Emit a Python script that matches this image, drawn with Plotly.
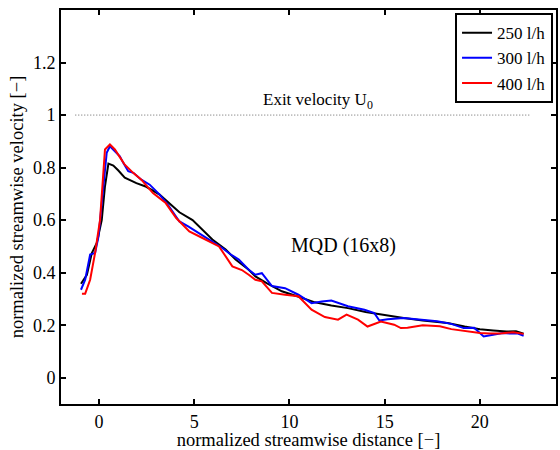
import plotly.graph_objects as go

x250 = [-0.95, -0.64, -0.38, -0.12, 0.14, 0.31, 0.49, 0.75, 1.0, 1.35, 1.96, 2.48, 3.18, 3.7, 4.22, 4.91,
        5.95, 6.65, 7.17, 7.86, 8.21, 8.8, 9.6, 10.4, 11.34, 12.2, 13.07, 14.0, 14.8, 16.0, 17.0, 18.3,
        19.2, 20.0, 20.7, 21.4, 21.9, 22.3]
y250 = [0.358, 0.392, 0.475, 0.513, 0.60, 0.729, 0.815, 0.808, 0.79, 0.762, 0.741, 0.727, 0.697, 0.665,
        0.63, 0.60, 0.526, 0.488, 0.45, 0.411, 0.386, 0.36, 0.329, 0.31, 0.287, 0.275, 0.265, 0.25, 0.24,
        0.227, 0.218, 0.208, 0.195, 0.185, 0.18, 0.176, 0.177, 0.168]

x300 = [-0.95, -0.73, -0.47, -0.21, -0.03, 0.22, 0.40, 0.57, 0.83, 1.09, 1.27, 1.53, 1.8, 2.22, 2.66,
        3.18, 3.6, 4.22, 4.7, 5.26, 5.8, 6.47, 6.9, 7.34, 7.86, 8.21, 8.55, 9.08, 9.77, 10.47, 11.16,
        11.7, 12.2, 13.07, 13.94, 14.46, 14.72, 15.16, 16.0, 16.8, 17.76, 18.5, 19.15, 19.7, 20.2, 20.7,
        21.2, 21.6, 22.0, 22.3]
y300 = [0.335, 0.373, 0.469, 0.475, 0.538, 0.729, 0.856, 0.881, 0.862, 0.843, 0.818, 0.786, 0.78, 0.754,
        0.735, 0.697, 0.66, 0.595, 0.575, 0.551, 0.525, 0.494, 0.47, 0.45, 0.411, 0.392, 0.398, 0.349,
        0.341, 0.316, 0.284, 0.29, 0.294, 0.272, 0.259, 0.246, 0.218, 0.223, 0.227, 0.222, 0.215, 0.205,
        0.189, 0.19, 0.157, 0.164, 0.17, 0.168, 0.168, 0.16]

x400 = [-0.9, -0.73, -0.47, -0.21, 0.05, 0.31, 0.57, 0.83, 1.09, 1.35, 1.79, 2.22, 2.83, 3.5, 4.05, 4.74,
        5.43, 6.3, 7.0, 7.5, 7.86, 8.21, 8.55, 9.08, 9.77, 10.47, 11.16, 11.86, 12.55, 13.0, 13.6, 14.1,
        14.8, 15.5, 15.85, 16.2, 17.0, 17.9, 18.5, 19.15, 20.0, 20.5, 21.06, 21.75, 22.3]
y400 = [0.32, 0.32, 0.373, 0.475, 0.60, 0.869, 0.888, 0.869, 0.84, 0.811, 0.78, 0.754, 0.703, 0.665,
        0.608, 0.557, 0.532, 0.50, 0.424, 0.41, 0.392, 0.373, 0.367, 0.323, 0.316, 0.31, 0.259, 0.231,
        0.221, 0.24, 0.221, 0.195, 0.214, 0.202, 0.189, 0.19, 0.2, 0.196, 0.185, 0.178, 0.17, 0.168,
        0.168, 0.173, 0.167]

exit_x = [-1.25, 22.7]
exit_y = [1.0, 1.0]

x_ticks = [0, 5, 10, 15, 20]
y_ticks = [0, 0.2, 0.4, 0.6, 0.8, 1, 1.2]
y_tick_labels = ["0", "0.2", "0.4", "0.6", "0.8", "1", "1.2"]

FONT = "'Liberation Serif', 'Times New Roman', Times, serif"

fig = go.Figure()
fig.add_trace(go.Scatter(x=exit_x, y=exit_y, mode="lines", showlegend=False,
                         line=dict(color="#666666", width=1, dash="1px,2px"), hoverinfo="skip"))
fig.add_trace(go.Scatter(x=x250, y=y250, mode="lines", name="250 l/h", line=dict(color="black", width=2)))
fig.add_trace(go.Scatter(x=x300, y=y300, mode="lines", name="300 l/h", line=dict(color="blue", width=2)))
fig.add_trace(go.Scatter(x=x400, y=y400, mode="lines", name="400 l/h", line=dict(color="red", width=2)))

fig.add_annotation(x=11.5, y=1.055, text="Exit velocity U<sub>0</sub>", showarrow=False,
                   font=dict(family=FONT, size=17, color="black"))
fig.add_annotation(x=12.85, y=0.503, text="MQD (16x8)", showarrow=False,
                   font=dict(family=FONT, size=20, color="black"))

axis_common = dict(showline=True, linecolor="black", linewidth=2, mirror="allticks",
                   ticks="inside", ticklen=5, tickwidth=1.5, tickcolor="black",
                   showgrid=False, zeroline=False,
                   tickfont=dict(family=FONT, size=18, color="black"))

fig.update_xaxes(range=[-2, 24], tickvals=x_ticks,
                 title=dict(text="normalized streamwise distance [\u2212]", standoff=0,
                            font=dict(family=FONT, size=18.5, color="black")),
                 **axis_common)
fig.update_yaxes(range=[-0.1, 1.4], tickvals=y_ticks, ticktext=y_tick_labels,
                 title=dict(text="normalized streamwise velocity [\u2212]", standoff=4,
                            font=dict(family=FONT, size=18.5, color="black")),
                 **axis_common)

fig.update_layout(
    width=560, height=450,
    font=dict(family=FONT, color="black"),
    margin=dict(l=61, r=2, t=10, b=46),
    plot_bgcolor="white", paper_bgcolor="white",
    legend=dict(x=0.994, y=0.992, xanchor="right", yanchor="top",
                bordercolor="black", borderwidth=2, bgcolor="white",
                font=dict(family=FONT, size=17, color="black"),
                tracegroupgap=0, itemwidth=30),
)

fig.write_html("out.html")
